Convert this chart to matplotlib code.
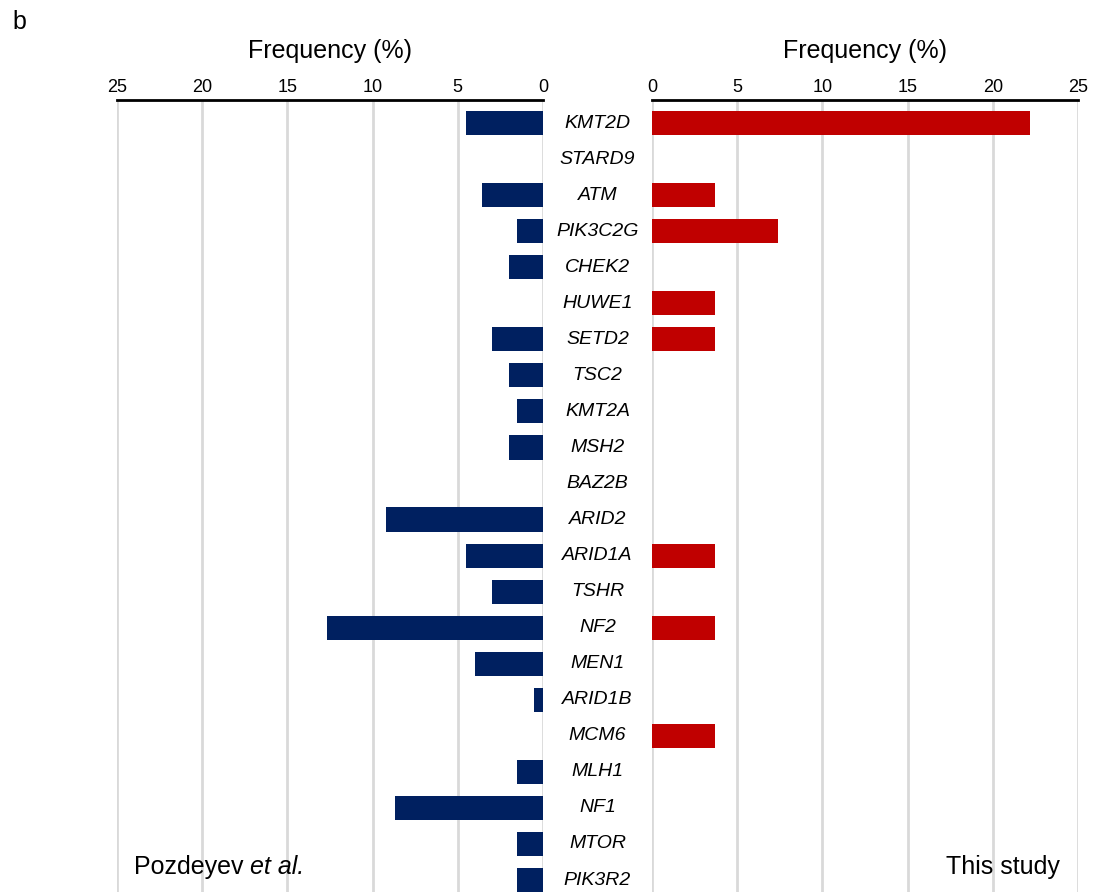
import numpy as np
import matplotlib.pyplot as plt
import matplotlib.transforms as mtransforms

plt.rcParams["font.family"] = ["Liberation Sans", "DejaVu Sans"]

# ------------------------------------------------------------
# data
# ------------------------------------------------------------
genes = ["KMT2D", "STARD9", "ATM", "PIK3C2G", "CHEK2", "HUWE1", "SETD2",
         "TSC2", "KMT2A", "MSH2", "BAZ2B", "ARID2", "ARID1A", "TSHR", "NF2",
         "MEN1", "ARID1B", "MCM6", "MLH1", "NF1", "MTOR", "PIK3R2"]

pozdeyev = [4.5, 0, 3.6, 1.5, 2.0, 0, 3.0, 2.0, 1.5, 2.0, 0, 9.2, 4.5, 3.0,
            12.7, 4.0, 0.5, 0, 1.5, 8.7, 1.5, 1.5]

this_study = [22.2, 0, 3.7, 7.4, 0, 3.7, 3.7, 0, 0, 0, 0, 0, 3.7, 0, 3.7,
              0, 0, 3.7, 0, 0, 0, 0]

ticks = [0, 5, 10, 15, 20, 25]

NAVY = "#002060"
RED = "#C00000"
GRID = "#d9d9d9"

W, H = 1097, 892
fig = plt.figure(figsize=(W / 100, H / 100), dpi=100)

top_px, bot_px = 100, 900
ax_l = fig.add_axes([117 / W, 1 - bot_px / H, 426 / W, (bot_px - top_px) / H])
ax_r = fig.add_axes([652 / W, 1 - bot_px / H, 426 / W, (bot_px - top_px) / H])

y = np.arange(len(genes))
row_px = 36.05
ylim_top = -(123 - top_px) / row_px
ylim_bot = ylim_top + (bot_px - top_px) / row_px

for ax, vals, col in [(ax_l, pozdeyev, NAVY), (ax_r, this_study, RED)]:
    ax.barh(y, vals, height=0.67, color=col, zorder=3)
    ax.set_xlim(0, 25)
    ax.set_ylim(ylim_bot, ylim_top)
    ax.set_xticks(ticks)
    ax.set_xticklabels([str(t) for t in ticks], fontsize=13)
    ax.xaxis.tick_top()
    ax.xaxis.set_label_position("top")
    ax.tick_params(axis="x", length=0, pad=3)
    ax.set_yticks([])
    ax.set_xlabel("Frequency (%)", fontsize=18, labelpad=15)
    ax.grid(axis="x", color=GRID, linewidth=2, zorder=0)
    for s in ["left", "right", "bottom"]:
        ax.spines[s].set_visible(False)
    ax.spines["top"].set_linewidth(2)
    ax.spines["top"].set_zorder(4)
    ax.patch.set_alpha(0)

ax_l.invert_xaxis()

# gene names in the middle gap
trans = mtransforms.blended_transform_factory(fig.transFigure, ax_l.transData)
for yi, g in zip(y, genes):
    fig.text(597.5 / W, yi, g, transform=trans, ha="center", va="center",
             fontsize=14, style="italic")

# corner labels
t1 = fig.text(134 / W, 1 - 867 / H, "Pozdeyev ", fontsize=18,
              ha="left", va="center")
fig.canvas.draw()
bb = t1.get_window_extent()
fig.text(bb.x1 / W, 1 - 867 / H, "et al.", fontsize=18, style="italic",
         ha="left", va="center")
fig.text(1060 / W, 1 - 867 / H, "This study", fontsize=18,
         ha="right", va="center")
fig.text(12 / W, 1 - 22 / H, "b", fontsize=18, ha="left", va="center")

fig.savefig("out.png", dpi=100)
